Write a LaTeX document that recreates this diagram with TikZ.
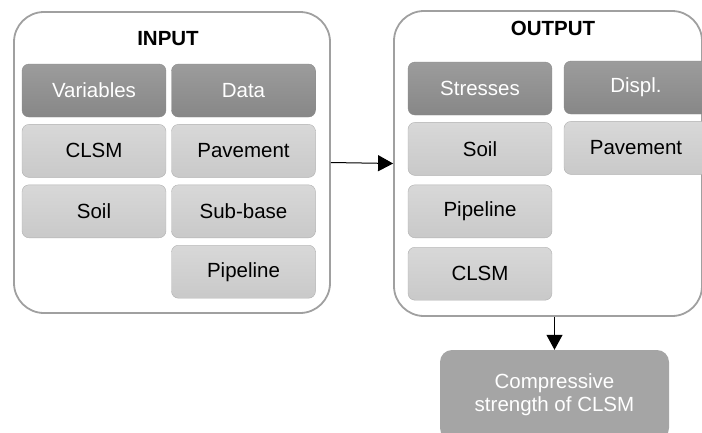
\documentclass[tikz,border=0pt]{standalone}
\usepackage{fontspec}
\setmainfont{Liberation Sans}
\usepackage{xcolor}
\usepackage{tikz}
\usetikzlibrary{arrows.meta, positioning}

\definecolor{framegray}{HTML}{A0A0A0}
\definecolor{headtop}{HTML}{9C9C9C}
\definecolor{headbot}{HTML}{878787}
\definecolor{headline}{HTML}{8A8A8A}
\definecolor{itemtop}{HTML}{D8D8D8}
\definecolor{itembot}{HTML}{C9C9C9}
\definecolor{itemline}{HTML}{B0B0B0}
\definecolor{resultfill}{HTML}{A5A5A5}

\begin{document}
\begin{tikzpicture}[
                x=1pt, y=-1pt,
                node distance=7pt,
                font=\fontsize{20.5}{23}\selectfont,
                group/.style={draw=framegray, line width=1.8pt, rounded corners=30pt,
                    minimum width=316pt, minimum height=301pt, inner sep=0pt},
                header/.style={draw=headline, rounded corners=7pt, top color=headtop,
                    bottom color=headbot, text=white, minimum width=144pt,
                    minimum height=53pt, inner sep=0pt},
                item/.style={draw=itemline, top color=itemtop, bottom color=itembot,
                    rounded corners=7pt, minimum width=144pt, minimum height=53pt,
                    inner sep=0pt},
                result/.style={fill=resultfill, rounded corners=12pt, text=white,
                    minimum width=229pt, minimum height=90pt, align=center,
                    font=\fontsize{20.5}{23}\selectfont},
                link/.style={-{Triangle[length=15pt, width=16pt]}, line width=1pt}
            ]
                \useasboundingbox (0,0) rectangle (702,432);
                \clip (0,0) rectangle (702,432);

                % Containers
                \node[group] (inbox) at (172,162.5) {};
                \node[group, minimum width=308pt, minimum height=305pt] (outbox) at (548,163.5) {};
                \node[font=\bfseries\fontsize{20.5}{23}\selectfont] (intitle) at (168,39) {INPUT};
                \node[font=\bfseries\fontsize{20.5}{23}\selectfont] (outtitle) at (553,28) {OUTPUT};

                % Input column: variables
                \node[header] (vars) at (94,90.5) {Variables};
                \node[item, below=of vars] (inclsm) {CLSM};
                \node[item, below=of inclsm] (insoil) {Soil};

                % Input column: data
                \node[header] (data) at (243.5,90.5) {Data};
                \node[item, below=of data] (inpave) {Pavement};
                \node[item, below=of inpave] (insub) {Sub-base};
                \node[item, below=of insub] (inpipe) {Pipeline};

                % Output column: stresses
                \node[header] (stress) at (480,88.5) {Stresses};
                \node[item, below=of stress] (outsoil) {Soil};
                \node[item, below=9pt of outsoil] (outpipe) {Pipeline};
                \node[item, below=9pt of outpipe] (outclsm) {CLSM};

                % Output column: displacements
                \node[header] (displ) at (636,87.5) {Displ.};
                \node[item, below=of displ] (outpave) {Pavement};

                % Result
                \node[result] (strength) at (554.5,395) {Compressive\\strength of CLSM};

                % Connectors
                \draw[link] (inbox.east) -- (outbox.west);
                \draw[link] (outbox.south -| strength.north) -- (strength.north);
            \end{tikzpicture}
\end{document}
